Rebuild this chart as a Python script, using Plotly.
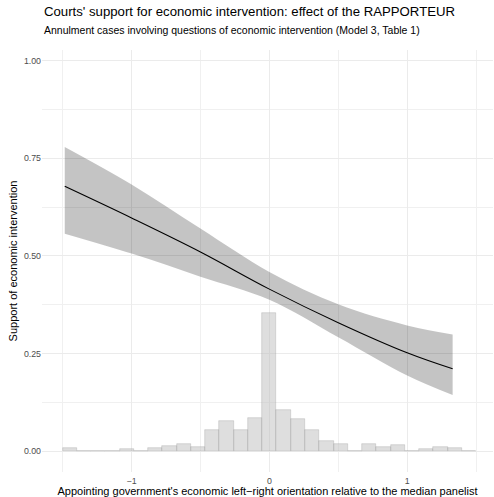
import numpy as np
import plotly.graph_objects as go

# Fitted curve (predicted probability) and 95% band
x_fit = [-1.485, -1.0, -0.5, 0.0, 0.5, 1.0, 1.33]
fit = [0.678, 0.597, 0.510, 0.415, 0.329, 0.252, 0.211]
lo = [0.557, 0.506, 0.447, 0.388, 0.292, 0.194, 0.144]
hi = [0.779, 0.683, 0.570, 0.459, 0.376, 0.322, 0.299]

# Histogram of the orientation variable (scaled heights)
hist_start = -1.5
hist_width = 3 / 29
hist_heights = [0.008, 0, 0, 0, 0.005, 0, 0.008, 0.013, 0.018, 0.010,
                0.054, 0.077, 0.054, 0.084, 0.353, 0.105, 0.082, 0.054,
                0.026, 0.018, 0.002, 0.018, 0.010, 0.015, 0.002, 0.005,
                0.012, 0.008, 0.002]
hist_centers = [hist_start + hist_width * (i + 0.5) for i in range(len(hist_heights))]

x_ticks = [-1, 0, 1]
y_ticks = [0, 0.25, 0.5, 0.75, 1.0]

title = "Courts' support for economic intervention: effect of the RAPPORTEUR"
subtitle = "Annulment cases involving questions of economic intervention (Model 3, Table 1)"
x_title = "Appointing government's economic left\u2212right orientation relative to the median panelist"
y_title = "Support of economic intervention"

FONT = "Liberation Sans, Arial, sans-serif"

fig = go.Figure()
fig.add_trace(go.Bar(
    x=hist_centers, y=hist_heights, width=hist_width,
    marker=dict(color="rgba(190,190,190,0.5)",
                line=dict(color="rgba(140,140,140,0.45)", width=0.6)),
    hoverinfo="skip", showlegend=False))
fig.add_trace(go.Scatter(
    x=x_fit, y=lo, mode="lines", line=dict(width=0, shape="spline"),
    hoverinfo="skip", showlegend=False))
fig.add_trace(go.Scatter(
    x=x_fit, y=hi, mode="lines", line=dict(width=0, shape="spline"),
    fill="tonexty", fillcolor="rgba(0,0,0,0.23)",
    hoverinfo="skip", showlegend=False))
fig.add_trace(go.Scatter(
    x=x_fit, y=fit, mode="lines", line=dict(color="black", width=1.1, shape="spline"),
    showlegend=False))

fig.update_layout(
    width=494, height=497,
    margin=dict(l=42, r=1, t=50, b=25),
    paper_bgcolor="white", plot_bgcolor="white",
    font=dict(family=FONT, color="black"),
    bargap=0,
    annotations=[
        dict(text=title, xref="paper", yref="paper", x=0, y=1, xanchor="left",
             yanchor="bottom", yshift=29, showarrow=False,
             font=dict(size=13.2, color="black", family=FONT)),
        dict(text=subtitle, xref="paper", yref="paper", x=0, y=1, xanchor="left",
             yanchor="bottom", yshift=12, showarrow=False,
             font=dict(size=10.5, color="black", family=FONT)),
    ],
)
fig.update_xaxes(
    range=[-1.65, 1.623], tickvals=x_ticks, ticktext=["\u22121", "0", "1"],
    showgrid=True, gridcolor="#ebebeb", gridwidth=1,
    minor=dict(showgrid=True, gridcolor="#f0f0f0", gridwidth=0.6, dtick=0.5, tick0=0.5),
    zeroline=False, showline=False, ticks="",
    tickfont=dict(size=8.8, color="#4d4d4d", family=FONT), ticklabelstandoff=2,
    title=dict(text=x_title, font=dict(size=11, color="black", family=FONT), standoff=3),
)
fig.update_yaxes(
    range=[-0.053, 1.027], tickvals=y_ticks, tickformat=".2f",
    showgrid=True, gridcolor="#ebebeb", gridwidth=1,
    minor=dict(showgrid=True, gridcolor="#f0f0f0", gridwidth=0.6, dtick=0.25, tick0=0.125),
    zeroline=False, showline=False, ticks="",
    tickfont=dict(size=8.8, color="#4d4d4d", family=FONT),
    title=dict(text=y_title, font=dict(size=11, color="black", family=FONT), standoff=4),
)

fig.write_html("out.html")
